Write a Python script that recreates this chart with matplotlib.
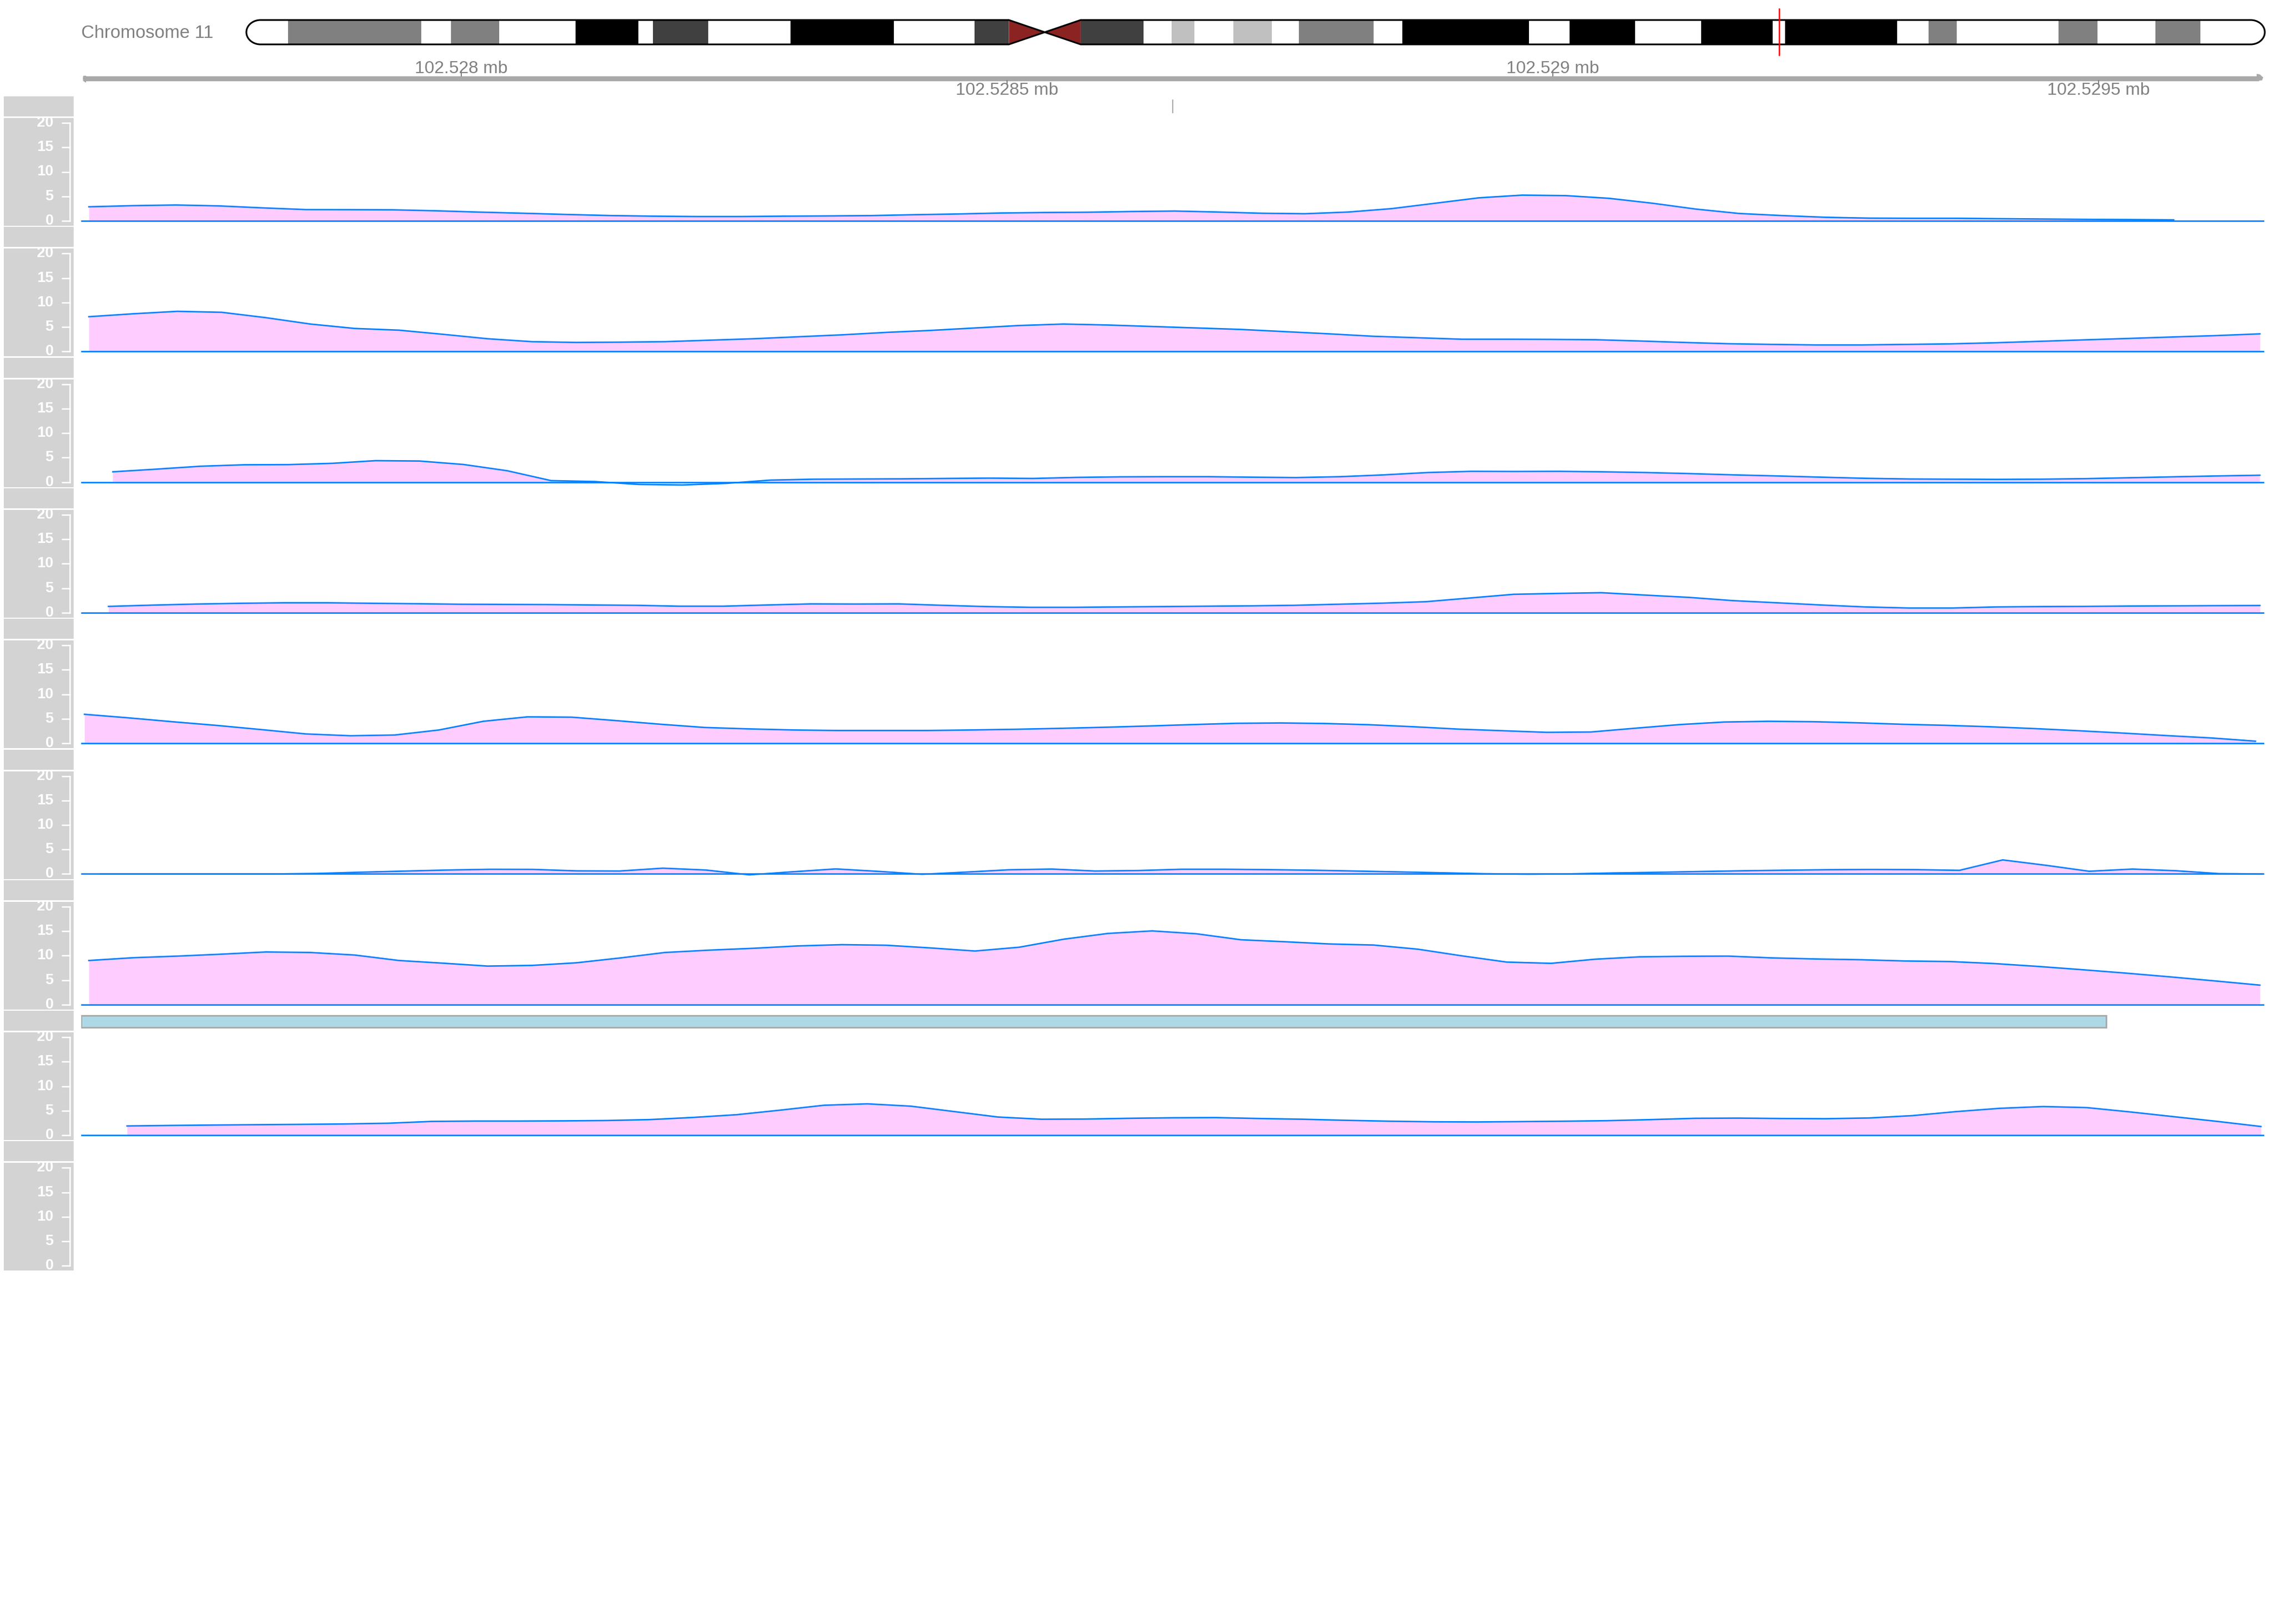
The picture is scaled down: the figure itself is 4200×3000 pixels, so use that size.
import numpy as np
import matplotlib
matplotlib.use("Agg")
import matplotlib.pyplot as plt
from matplotlib.patches import Rectangle, Polygon

plt.rcParams['font.family'] = ['Liberation Sans', 'DejaVu Sans']

# ---------------- data ----------------
CHROM_NAME = "Chromosome 11"
CHROM_LEN = 135.0  # Mb

BAND_START = [0.0, 2.8, 11.7, 13.7, 16.9, 22.0, 26.2, 27.2, 30.9, 36.4, 43.3, 48.7,
              51.0, 53.4, 55.8, 60.0, 61.9, 63.4, 66.0, 68.6, 70.4, 75.4, 77.3, 85.8,
              88.5, 92.9, 97.3, 102.1, 102.9, 110.4, 112.5, 114.4, 121.2, 123.8, 127.7, 130.7]
BAND_END = [2.8, 11.7, 13.7, 16.9, 22.0, 26.2, 27.2, 30.9, 36.4, 43.3, 48.7, 51.0,
            53.4, 55.8, 60.0, 61.9, 63.4, 66.0, 68.6, 70.4, 75.4, 77.3, 85.8, 88.5,
            92.9, 97.3, 102.1, 102.9, 110.4, 112.5, 114.4, 121.2, 123.8, 127.7, 130.7, 135.0]
BAND_STAIN = ["gneg", "gpos50", "gneg", "gpos50", "gneg", "gpos100", "gneg", "gpos75",
              "gneg", "gpos100", "gneg", "gpos75", "acen", "acen", "gpos75", "gneg",
              "gpos25", "gneg", "gpos25", "gneg", "gpos50", "gneg", "gpos100", "gneg",
              "gpos100", "gneg", "gpos100", "gneg", "gpos100", "gneg", "gpos50", "gneg",
              "gpos50", "gneg", "gpos50", "gneg"]
STAIN_COLORS = {"gneg": "#FFFFFF", "gpos25": "#C0C0C0", "gpos50": "#808080",
                "gpos75": "#404040", "gpos100": "#000000", "acen": "#8B2323"}

REGION_START, REGION_END = 102527652, 102529652
AXIS_TICKS = [102528000, 102528500, 102529000, 102529500]
MARK_POS = 102528652
ANNOT_START, ANNOT_END = 102527652, 102529507

TRACK_STARTS = [102527659, 102527659, 102527681, 102527677, 102527655,
                102527670, 102527659, 102527694]
TRACK_ENDS = [102529569, 102529648, 102529648, 102529648, 102529644,
              102529650, 102529648, 102529649]

track1 = [2.87, 3.1, 3.24, 3.05, 2.65, 2.3, 2.28, 2.25, 2.05, 1.78, 1.55, 1.3, 1.08,
          0.95, 0.88, 0.88, 0.95, 1.0, 1.07, 1.25, 1.4, 1.6, 1.7, 1.76, 1.9, 2.0, 1.8,
          1.55, 1.45, 1.8, 2.5, 3.6, 4.7, 5.25, 5.15, 4.6, 3.6, 2.4, 1.5, 1.07, 0.72,
          0.55, 0.52, 0.52, 0.44, 0.37, 0.3, 0.26, 0.2]
track2 = [7.1, 7.7, 8.2, 8.0, 6.9, 5.6, 4.7, 4.35, 3.5, 2.6, 2.0, 1.84, 1.9, 2.0, 2.3,
          2.6, 3.0, 3.4, 3.9, 4.3, 4.8, 5.3, 5.6, 5.4, 5.1, 4.8, 4.5, 4.05, 3.6, 3.1,
          2.8, 2.5, 2.5, 2.47, 2.4, 2.14, 1.84, 1.58, 1.44, 1.33, 1.33, 1.44, 1.55,
          1.77, 2.06, 2.36, 2.65, 2.95, 3.24, 3.6]
track3 = [2.1, 2.65, 3.24, 3.54, 3.57, 3.83, 4.38, 4.3, 3.6, 2.32, 0.3, 0.11, -0.48,
          -0.59, -0.26, 0.4, 0.59, 0.63, 0.66, 0.74, 0.81, 0.74, 0.96, 1.07, 1.1, 1.1,
          1.0, 0.92, 1.1, 1.47, 1.95, 2.2, 2.17, 2.2, 2.1, 1.95, 1.73, 1.47, 1.25, 1.0,
          0.77, 0.63, 0.59, 0.55, 0.59, 0.7, 0.88, 1.07, 1.25, 1.4]
track4 = [1.29, 1.55, 1.77, 1.92, 2.03, 2.03, 1.92, 1.84, 1.73, 1.69, 1.66, 1.58, 1.51,
          1.33, 1.33, 1.58, 1.8, 1.77, 1.8, 1.51, 1.25, 1.1, 1.1, 1.18, 1.25, 1.33, 1.4,
          1.51, 1.73, 1.95, 2.25, 3.0, 3.76, 3.94, 4.09, 3.6, 3.13, 2.47, 2.03, 1.58,
          1.18, 0.96, 0.96, 1.18, 1.25, 1.29, 1.36, 1.4, 1.44, 1.47]
track5 = [5.93, 5.2, 4.4, 3.65, 2.8, 1.92, 1.55, 1.7, 2.73, 4.5, 5.41, 5.34, 4.64, 3.9,
          3.24, 2.95, 2.73, 2.62, 2.62, 2.62, 2.73, 2.87, 3.06, 3.28, 3.54, 3.83, 4.09,
          4.16, 4.05, 3.8, 3.39, 2.91, 2.58, 2.25, 2.32, 3.09, 3.83, 4.35, 4.5, 4.42,
          4.2, 3.9, 3.68, 3.39, 3.02, 2.58, 2.1, 1.58, 1.1, 0.44]
track6 = [0, 0, 0, 0, 0, 0.1, 0.35, 0.58, 0.8, 0.95, 0.93, 0.63, 0.6, 1.18, 0.8, -0.18,
          0.44, 1.03, 0.52, -0.07, 0.37, 0.85, 1.0, 0.6, 0.7, 0.96, 0.96, 0.88, 0.77,
          0.6, 0.42, 0.24, 0.05, -0.05, 0.02, 0.2, 0.33, 0.5, 0.65, 0.77, 0.87, 0.92,
          0.88, 0.74, 2.87, 1.77, 0.55, 1.0, 0.66, 0.07, 0]
track7 = [9.0, 9.57, 9.9, 10.3, 10.75, 10.64, 10.12, 9.0, 8.45, 7.86, 8.0, 8.53, 9.53,
          10.64, 11.12, 11.5, 11.98, 12.24, 12.12, 11.57, 10.94, 11.72, 13.35, 14.53,
          15.05, 14.46, 13.24, 12.83, 12.38, 12.16, 11.31, 9.94, 8.68, 8.42, 9.27, 9.75,
          9.86, 9.9, 9.53, 9.31, 9.16, 8.9, 8.79, 8.38, 7.79, 7.12, 6.41, 5.64, 4.82, 3.97]
track8 = [1.89, 2.0, 2.08, 2.15, 2.22, 2.3, 2.45, 2.82, 2.89, 2.89, 2.93, 3.0, 3.19,
          3.63, 4.19, 5.12, 6.12, 6.41, 5.93, 4.82, 3.71, 3.26, 3.3, 3.45, 3.56, 3.6,
          3.41, 3.26, 3.04, 2.86, 2.74, 2.71, 2.78, 2.86, 2.97, 3.19, 3.45, 3.49, 3.41,
          3.37, 3.52, 4.0, 4.82, 5.49, 5.86, 5.64, 4.75, 3.78, 2.82, 1.78]
TRACKS = [track1, track2, track3, track4, track5, track6, track7, track8, None]

Y_TICKS = [0, 5, 10, 15, 20]
Y_LIM = (-1, 21)

# ---------------- styling / layout ----------------
W, H = 4200, 3000
LINE_BLUE = "#0080FF"
FILL_PINK = "#FFCCFF"
PANEL_GRAY = "#D3D3D3"
TEXT_GRAY = "#808080"
AXIS_GRAY = "#A9A9A9"

fig = plt.figure(figsize=(14, 10), dpi=300)
fig.patch.set_facecolor("white")


def px_axes(x0, y0, x1, y1):
    ax = fig.add_axes([x0 / W, 1 - y1 / H, (x1 - x0) / W, (y1 - y0) / H])
    ax.set_axis_off()
    return ax


# chromosome label
fig.text(150 / W, 1 - 62 / H, CHROM_NAME, ha="left", va="center",
         color=TEXT_GRAY, fontsize=8)

# ---------------- ideogram ----------------
axi = px_axes(455, 37, 4183, 82)
axi.set_xlim(0, CHROM_LEN)
axi.set_ylim(0, 1)
acen_idx = [i for i, s in enumerate(BAND_STAIN) if s == "acen"]
p_acen_start = BAND_START[acen_idx[0]]
cen = BAND_END[acen_idx[0]]
q_acen_end = BAND_END[acen_idx[1]]
rx = 0.95
t1 = np.linspace(np.pi / 2, 3 * np.pi / 2, 60)
left_cap = list(zip(rx + rx * np.cos(t1), 0.5 + 0.5 * np.sin(t1)))
t2 = np.linspace(-np.pi / 2, np.pi / 2, 60)
right_cap = list(zip(CHROM_LEN - rx + rx * np.cos(t2), 0.5 + 0.5 * np.sin(t2)))
p_verts = [(p_acen_start, 1)] + left_cap + [(p_acen_start, 0), (cen, 0.5)]
q_verts = [(cen, 0.5), (q_acen_end, 0)] + right_cap + [(q_acen_end, 1)]
p_clip = Polygon(p_verts, closed=True, transform=axi.transData)
q_clip = Polygon(q_verts, closed=True, transform=axi.transData)

for s, e, st in zip(BAND_START, BAND_END, BAND_STAIN):
    col = STAIN_COLORS[st]
    if st == "acen":
        if e <= cen:
            tri = Polygon([(s, 0), (s, 1), (e, 0.5)], closed=True, facecolor=col,
                          edgecolor="none")
        else:
            tri = Polygon([(s, 0.5), (e, 1), (e, 0)], closed=True, facecolor=col,
                          edgecolor="none")
        axi.add_patch(tri)
    else:
        r = Rectangle((s, 0), e - s, 1, facecolor=col, edgecolor="none")
        axi.add_patch(r)
        r.set_clip_path(p_clip if e <= cen else q_clip)

for verts in (p_verts, q_verts):
    axi.add_patch(Polygon(verts, closed=True, fill=False, edgecolor="black",
                          lw=0.75, clip_on=False, joinstyle="miter"))

region_mb = (REGION_START + REGION_END) / 2 / 1e6
axi.plot([region_mb, region_mb], [1.49, -0.47], color="red", lw=0.6,
         clip_on=False, solid_capstyle="butt")

# ---------------- genome axis ----------------
axg = px_axes(150, 100, 4182, 180)
axg.set_xlim(REGION_START, REGION_END)
axg.set_ylim(180, 100)
ax_s, ax_e = REGION_START + 1.5, REGION_END - 1
axg.plot([ax_s, ax_e - 4], [144.5, 144.5], color=AXIS_GRAY, lw=2.2,
         solid_capstyle="butt", clip_on=False)
# small strand arrowheads at both ends
axg.add_patch(Polygon([(ax_e - 6, 136.5), (ax_e - 3, 137.5), (ax_e, 143),
                       (ax_e - 1, 148.5), (ax_e - 6, 149.2)], closed=True,
                      facecolor=AXIS_GRAY, edgecolor="none", clip_on=False))
axg.add_patch(Polygon([(ax_s + 3, 152.5), (ax_s + 1.5, 151.5), (ax_s, 146),
                       (ax_s + 0.5, 140), (ax_s + 3, 139.8)], closed=True,
                      facecolor=AXIS_GRAY, edgecolor="none", clip_on=False))
for i, t in enumerate(AXIS_TICKS):
    lab = f"{t / 1e6:.7g} mb"
    if i % 2 == 0:
        axg.plot([t, t], [133, 140], color=TEXT_GRAY, lw=0.5)
        axg.text(t, 127, lab, ha="center", va="center", color=TEXT_GRAY, fontsize=7.8)
    else:
        axg.plot([t, t], [149, 155], color=TEXT_GRAY, lw=0.5)
        axg.text(t, 167, lab, ha="center", va="center", color=TEXT_GRAY, fontsize=7.8)

# ---------------- tracks ----------------
TOP0, PERIOD, THIN_H, DATA_OFF, DATA_H = 178, 241.3, 37, 40, 199

for i, vals in enumerate(TRACKS):
    tt = TOP0 + i * PERIOD
    # thin (annotation) track
    ttl = px_axes(7, tt, 136, tt + THIN_H)
    ttl.add_patch(Rectangle((0, 0), 1, 1, transform=ttl.transAxes,
                            facecolor=PANEL_GRAY, edgecolor="none"))
    tax = px_axes(150, tt, 4182, tt + THIN_H)
    tax.set_xlim(REGION_START, REGION_END)
    tax.set_ylim(tt + THIN_H, tt)
    if i == 0:
        tax.plot([MARK_POS, MARK_POS], [tt + 7, tt + 30], color=AXIS_GRAY, lw=0.5)
    if i == 7:
        tax.add_patch(Rectangle((ANNOT_START, tt + 9), ANNOT_END - ANNOT_START, 22,
                                facecolor="#ADD8E6", edgecolor=AXIS_GRAY, lw=0.7))

    # data track title panel with y axis
    dt = tt + DATA_OFF
    dtl = px_axes(7, dt, 136, dt + DATA_H)
    dtl.add_patch(Rectangle((0, 0), 1, 1, transform=dtl.transAxes,
                            facecolor=PANEL_GRAY, edgecolor="none"))
    dtl.set_xlim(7, 136)
    dtl.set_ylim(*Y_LIM)
    dtl.plot([129, 129], [Y_TICKS[0], Y_TICKS[-1]], color="white", lw=0.6)
    for v in Y_TICKS:
        dtl.plot([115, 129], [v, v], color="white", lw=0.6)
        dtl.text(99, v, str(v), ha="right", va="center", color="white",
                 fontsize=6.6, fontweight="bold", clip_on=True)

    dax = px_axes(150, dt, 4182, dt + DATA_H)
    dax.set_xlim(REGION_START, REGION_END)
    dax.set_ylim(*Y_LIM)
    if vals is None:
        continue
    y = np.array(vals, dtype=float)
    x = np.linspace(TRACK_STARTS[i], TRACK_ENDS[i], len(y))
    dax.fill_between(x, 0, y, where=y >= 0, interpolate=True, color=FILL_PINK, lw=0)
    dax.axhline(0, color=LINE_BLUE, lw=0.65)
    dax.plot(x, y, color=LINE_BLUE, lw=0.65)

fig.savefig("out.png", dpi=300, facecolor="white")
